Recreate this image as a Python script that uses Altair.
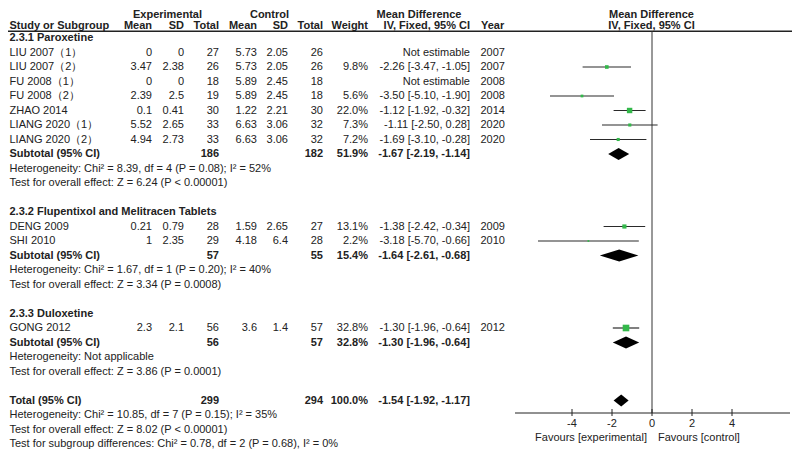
import altair as alt
import pandas as pd

FONT = "Liberation Sans"
TXT = "#222222"
GREEN = "#33b84a"
FS = 11

# ---------------- data ----------------
study = ["LIU 2007（1）", "LIU 2007（2）", "FU 2008（1）", "FU 2008（2）", "ZHAO 2014",
         "LIANG 2020（1）", "LIANG 2020（2）", "DENG 2009", "SHI 2010", "GONG 2012"]
study_group = [0, 0, 0, 0, 0, 0, 0, 1, 1, 2]
exp_mean = [0, 3.47, 0, 2.39, 0.1, 5.52, 4.94, 0.21, 1, 2.3]
exp_sd = [0, 2.38, 0, 2.5, 0.41, 2.65, 2.73, 0.79, 2.35, 2.1]
exp_n = [27, 26, 18, 19, 30, 33, 33, 28, 29, 56]
ctl_mean = [5.73, 5.73, 5.89, 5.89, 1.22, 6.63, 6.63, 1.59, 4.18, 3.6]
ctl_sd = [2.05, 2.05, 2.45, 2.45, 2.21, 3.06, 3.06, 2.65, 6.4, 1.4]
ctl_n = [26, 26, 18, 18, 30, 32, 32, 27, 28, 57]
weight = [None, 9.8, None, 5.6, 22.0, 7.3, 7.2, 13.1, 2.2, 32.8]
md = [None, -2.26, None, -3.50, -1.12, -1.11, -1.69, -1.38, -3.18, -1.30]
md_lo = [None, -3.47, None, -5.10, -1.92, -2.50, -3.10, -2.42, -5.70, -1.96]
md_hi = [None, -1.05, None, -1.90, -0.32, 0.28, -0.28, -0.34, -0.66, -0.64]
year = [2007, 2007, 2008, 2008, 2014, 2020, 2020, 2009, 2010, 2012]

group_name = ["2.3.1 Paroxetine", "2.3.2 Flupentixol and Melitracen Tablets", "2.3.3 Duloxetine"]
group_exp_n = [186, 57, 56]
group_ctl_n = [182, 55, 57]
group_weight = [51.9, 15.4, 32.8]
group_md = [-1.67, -1.64, -1.30]
group_lo = [-2.19, -2.61, -1.96]
group_hi = [-1.14, -0.68, -0.64]
group_het = ["Heterogeneity: Chi² = 8.39, df = 4 (P = 0.08); I² = 52%",
             "Heterogeneity: Chi² = 1.67, df = 1 (P = 0.20); I² = 40%",
             "Heterogeneity: Not applicable"]
group_test = ["Test for overall effect: Z = 6.24 (P < 0.00001)",
              "Test for overall effect: Z = 3.34 (P = 0.0008)",
              "Test for overall effect: Z = 3.86 (P = 0.0001)"]

total_label = "Total (95% CI)"
total_exp_n = 299
total_ctl_n = 294
total_weight = 100.0
total_md = -1.54
total_lo = -1.92
total_hi = -1.17
total_notes = ["Heterogeneity: Chi² = 10.85, df = 7 (P = 0.15); I² = 35%",
               "Test for overall effect: Z = 8.02 (P < 0.00001)",
               "Test for subgroup differences: Chi² = 0.78, df = 2 (P = 0.68), I² = 0%"]

axis_ticks = [-4, -2, 0, 2, 4]
x_domain = [-6.85, 6.9]
fav_left = "Favours [experimental]"
fav_right = "Favours [control]"

# ---------------- build table rows ----------------
def num(v):
    return f"{v:g}"

def ci(m, l, h):
    return f"{m:.2f} [{l:.2f}, {h:.2f}]"

rows = []        # text cells
studies_pts = [] # forest points
diamonds = []    # summary diamonds
r = 0
for g in range(len(group_name)):
    rows.append(dict(row=r, bold=True, name=group_name[g]))
    r += 1
    for i in range(len(study)):
        if study_group[i] != g:
            continue
        cell = dict(row=r, bold=False, name=study[i], em=num(exp_mean[i]), esd=num(exp_sd[i]),
                    en=str(exp_n[i]), cm=num(ctl_mean[i]), csd=num(ctl_sd[i]), cn=str(ctl_n[i]),
                    yr=str(year[i]))
        if weight[i] is None:
            cell["w"] = ""
            cell["ci"] = "Not estimable"
        else:
            cell["w"] = f"{weight[i]:.1f}%"
            cell["ci"] = ci(md[i], md_lo[i], md_hi[i])
            studies_pts.append(dict(row=r, md=md[i], lo=md_lo[i], hi=md_hi[i], w=weight[i]))
        rows.append(cell)
        r += 1
    rows.append(dict(row=r, bold=True, name="Subtotal (95% CI)", en=str(group_exp_n[g]),
                     cn=str(group_ctl_n[g]), w=f"{group_weight[g]:.1f}%",
                     ci=ci(group_md[g], group_lo[g], group_hi[g])))
    diamonds.append((r, group_md[g], group_lo[g], group_hi[g]))
    r += 1
    rows.append(dict(row=r, bold=False, name=group_het[g]))
    r += 1
    rows.append(dict(row=r, bold=False, name=group_test[g]))
    r += 2
rows.append(dict(row=r, bold=True, name=total_label, en=str(total_exp_n), cn=str(total_ctl_n),
                 w=f"{total_weight:.1f}%", ci=ci(total_md, total_lo, total_hi)))
diamonds.append((r, total_md, total_lo, total_hi))
r += 1
for t in total_notes:
    rows.append(dict(row=r, bold=False, name=t))
    r += 1
n_rows = r - 1

table = pd.DataFrame(rows).fillna("")

# ---------------- scales / layout ----------------
ROW0 = 30.0
ROWH = 14.5
ys = alt.Scale(domain=[0, n_rows], range=[ROW0, ROW0 + n_rows * ROWH], nice=False, zero=False)
xs = alt.Scale(domain=x_domain, range=[507, 782], nice=False, zero=False)

HDR1 = 10.0   # baseline of top header line
HDR2 = 21.0   # baseline of second header line
HLINE = 23.2  # header underline

columns = [("name", 1.5, "left"), ("em", 144, "right"), ("esd", 176, "right"),
           ("en", 211, "right"), ("cm", 249, "right"), ("csd", 280, "right"),
           ("cn", 315, "right"), ("w", 360, "right"), ("ci", 462, "right"),
           ("yr", 472.5, "left")]

layers = []
for col, px, al in columns:
    for b in (False, True):
        sub = table[(table["bold"] == b) & (table[col] != "")][["row", col]]
        if len(sub) == 0:
            continue
        layers.append(
            alt.Chart(sub).mark_text(align=al, baseline="middle", font=FONT, fontSize=FS,
                                     color=TXT, fontWeight="bold" if b else "normal")
            .encode(x=alt.value(px), y=alt.Y("row:Q", scale=ys, axis=None), text=f"{col}:N")
        )

headers = [("Experimental", 159.5, HDR1, "center"), ("Control", 261.5, HDR1, "center"),
           ("Mean Difference", 411, HDR1, "center"), ("Mean Difference", 643.5, HDR1, "center"),
           ("Study or Subgroup", 1.5, HDR2, "left"), ("Mean", 144, HDR2, "right"),
           ("SD", 176, HDR2, "right"), ("Total", 211, HDR2, "right"),
           ("Mean", 249, HDR2, "right"), ("SD", 280, HDR2, "right"),
           ("Total", 315, HDR2, "right"), ("Weight", 360, HDR2, "right"),
           ("IV, Fixed, 95% CI", 462, HDR2, "right"), ("Year", 473, HDR2, "left"),
           ("IV, Fixed, 95% CI", 643.5, HDR2, "center")]
for label, px, py, al in headers:
    layers.append(
        alt.Chart(pd.DataFrame({"t": [label]})).mark_text(
            align=al, baseline="alphabetic", font=FONT, fontSize=FS, color=TXT, fontWeight="bold")
        .encode(x=alt.value(px), y=alt.value(py), text="t:N")
    )

# header underline
layers.append(
    alt.Chart(pd.DataFrame({"a": [0]})).mark_rule(color=TXT, strokeWidth=1.6)
    .encode(x=alt.value(0), x2=alt.value(784), y=alt.value(HLINE))
)

# zero line
layers.append(
    alt.Chart(pd.DataFrame({"x": [0]})).mark_rule(color="#333333", strokeWidth=1)
    .encode(x=alt.X("x:Q", scale=xs, axis=None), y=alt.value(HLINE), y2=alt.value(405))
)

# CI lines
pts = pd.DataFrame(studies_pts)
layers.append(
    alt.Chart(pts).mark_rule(color="#2a2a2a", strokeWidth=1.2)
    .encode(x=alt.X("lo:Q", scale=xs, axis=None), x2="hi:Q",
            y=alt.Y("row:Q", scale=ys, axis=None))
)
# weight squares
layers.append(
    alt.Chart(pts).mark_square(color=GREEN, opacity=1, filled=True)
    .encode(x=alt.X("md:Q", scale=xs, axis=None), y=alt.Y("row:Q", scale=ys, axis=None),
            size=alt.Size("w:Q", scale=alt.Scale(domain=[0, 32.8], range=[0, 44]), legend=None))
)

# diamonds
DH = 0.41
drows = []
for k, (rr, m, l, h) in enumerate(diamonds):
    drows += [dict(g=k, x=l, y=rr, y2=rr), dict(g=k, x=m, y=rr - DH, y2=rr + DH),
              dict(g=k, x=h, y=rr, y2=rr)]
layers.append(
    alt.Chart(pd.DataFrame(drows)).mark_area(color="black", opacity=1)
    .encode(x=alt.X("x:Q", scale=xs, axis=None), y=alt.Y("y:Q", scale=ys, axis=None),
            y2="y2:Q", detail="g:N")
)

# forest axis
layers.append(
    alt.Chart(pd.DataFrame({"x": [x_domain[0]], "x2": [x_domain[1]]})).mark_rule(color="#222222", strokeWidth=1)
    .encode(x=alt.X("x:Q", scale=xs, axis=None), x2="x2:Q", y=alt.value(405))
)
tick_df = pd.DataFrame({"x": axis_ticks, "lab": [str(t) for t in axis_ticks]})
layers.append(
    alt.Chart(tick_df).mark_rule(color="#222222", strokeWidth=1)
    .encode(x=alt.X("x:Q", scale=xs, axis=None), y=alt.value(401), y2=alt.value(408))
)
layers.append(
    alt.Chart(tick_df).mark_text(font=FONT, fontSize=FS, color=TXT, baseline="middle", align="center")
    .encode(x=alt.X("x:Q", scale=xs, axis=None), y=alt.value(415.5), text="lab:N")
)
layers.append(
    alt.Chart(pd.DataFrame({"t": [fav_left]})).mark_text(font=FONT, fontSize=FS, color=TXT,
                                                          baseline="middle", align="right")
    .encode(x=alt.value(639), y=alt.value(429.5), text="t:N")
)
layers.append(
    alt.Chart(pd.DataFrame({"t": [fav_right]})).mark_text(font=FONT, fontSize=FS, color=TXT,
                                                           baseline="middle", align="left")
    .encode(x=alt.value(650), y=alt.value(429.5), text="t:N")
)

chart = alt.layer(*layers).properties(
    width=784, height=442, padding=0,
    autosize=alt.AutoSizeParams(type="none"),
    background="white",
).configure_view(stroke=None)

chart.save("out.html", embed_options={"renderer": "svg", "actions": False})
